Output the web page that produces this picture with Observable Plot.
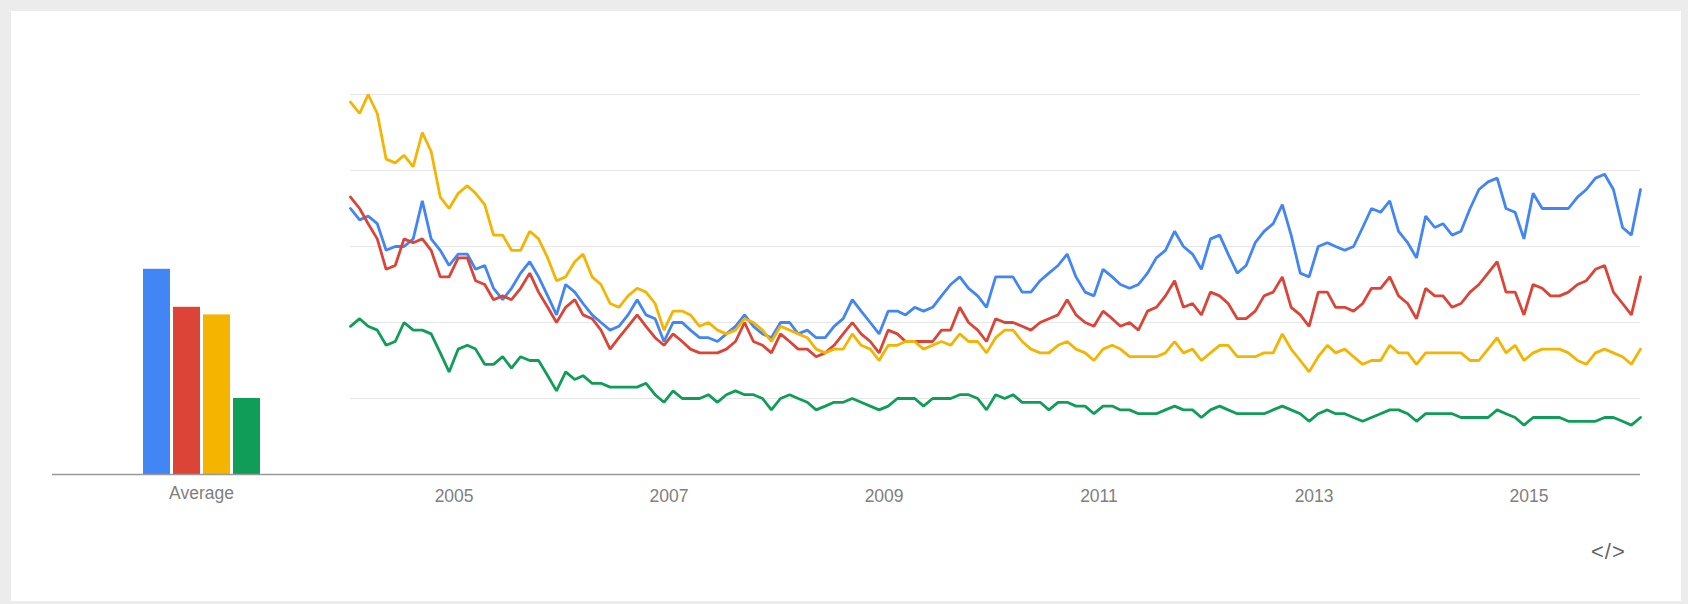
<!DOCTYPE html>
<html>
<head>
<meta charset="utf-8">
<script src="https://cdn.jsdelivr.net/npm/d3@7"></script>
<script src="https://cdn.jsdelivr.net/npm/@observablehq/plot@0.6"></script>
<style>
  html, body { margin: 0; padding: 0; background: #ececec; width: 1688px; height: 604px; overflow: hidden;
    font-family: "Liberation Sans", Arial, sans-serif; }
  #card { position: absolute; left: 11px; top: 11px; width: 1670px; height: 590px; background: #fff; }
  #bars { position: absolute; left: 0; top: 0; width: 350px; height: 604px; }
  #lines { position: absolute; left: 300px; top: 0; width: 1388px; height: 604px; }
  #embed { position: absolute; left: 1591px; top: 539px; font-size: 22px; color: #666; letter-spacing: 1px; }
</style>
</head>
<body>
<div id="card"></div>
<div id="bars"></div>
<div id="lines"></div>
<div id="embed">&lt;/&gt;</div>
<script>
// ---- data ----
const seriesNames = ["Term 1", "Term 2", "Term 3", "Term 4"];
const seriesColors = ["#4285f4", "#db4437", "#f4b400", "#0f9d58"];
const averages = [54, 44, 42, 20];
const averageLabel = "Average";
const startYear = 2004;   // monthly points, Jan 2004 .. Jan 2016
const tickYears = [2005, 2007, 2009, 2011, 2013, 2015];
const tickLabels = ["2005", "2007", "2009", "2011", "2013", "2015"];
const gridValues = [20, 40, 60, 80, 100];

const blue = [70,67,68,66,59,60,60,62,72,62,59,55,58,58,54,55,49,46,49,53,56,52,47,42,50,48,45,42,40,
  38,39,42,46,42,41,35,40,40,38,36,36,35,37,39,42,39,37,36,40,40,37,38,36,36,39,41,46,43,
  40,37,43,43,42,44,43,44,47,50,52,49,47,44,52,52,52,48,48,51,53,55,58,52,48,47,54,52,50,
  49,50,53,57,59,64,60,58,54,62,63,58,53,55,61,64,66,71,63,53,52,60,61,60,59,60,65,70,69,
  72,64,61,57,68,65,66,63,64,70,75,77,78,70,69,62,74,70,70,70,70,73,75,78,79,75,65,63,75];
const red = [73,70,66,62,54,55,62,61,62,59,52,52,57,57,51,50,46,47,46,49,53,48,44,40,44,46,42,41,38,
  33,36,39,42,39,36,34,37,35,33,32,32,32,33,35,40,35,34,32,37,35,33,33,31,32,34,37,40,37,
  35,32,38,37,35,35,35,35,38,38,44,40,38,35,41,40,40,39,38,40,41,42,46,42,40,39,43,41,39,
  40,38,43,44,47,51,44,45,42,48,47,45,41,41,43,47,48,52,44,42,39,48,48,44,44,43,45,49,49,
  52,47,45,41,49,47,47,44,45,48,50,53,56,48,48,42,50,49,47,47,48,50,51,54,55,48,45,42,52];
const yellow = [98,95,100,95,83,82,84,81,90,85,73,70,74,76,74,71,63,63,59,59,64,62,57,51,52,56,58,52,50,
  45,44,47,49,48,45,38,43,43,42,39,40,38,37,38,41,40,38,35,39,38,37,36,33,32,33,33,37,34,
  33,30,34,34,35,35,33,34,35,34,37,35,35,32,36,38,38,35,33,32,32,34,35,33,32,30,33,34,33,
  31,31,31,31,32,35,32,33,30,32,34,34,31,31,31,32,32,37,33,30,27,31,34,32,33,31,29,30,30,
  34,32,32,29,32,32,32,32,32,30,30,33,36,32,34,30,32,33,33,33,32,30,29,32,33,32,31,29,33];
const green = [39,41,39,38,34,35,40,38,38,37,32,27,33,34,33,29,29,31,28,31,30,30,26,22,27,25,26,24,24,
  23,23,23,23,24,21,19,22,20,20,20,21,19,21,22,21,21,20,17,20,21,20,19,17,18,19,19,20,19,
  18,17,18,20,20,20,18,20,20,20,21,21,20,17,21,20,21,19,19,19,17,19,19,18,18,16,18,18,17,
  17,16,16,16,17,18,17,17,15,17,18,17,16,16,16,16,17,18,17,16,14,16,17,16,16,15,14,15,16,
  17,17,16,14,16,16,16,16,15,15,15,15,17,16,15,13,15,15,15,15,14,14,14,14,15,15,14,13,15];

// ---- build tables ----
const seriesValues = [blue, red, yellow, green];
const lineData = [];
seriesValues.forEach((vals, s) => {
  vals.forEach((v, i) => lineData.push({series: seriesNames[s], date: new Date(Date.UTC(startYear, i, 15)), value: v}));
});
const avgData = seriesNames.map((s, i) => ({series: s, value: averages[i]}));
const tickDates = tickYears.map(y => new Date(Date.UTC(y, 0, 1)));
const nMonths = blue.length;

const font = '"Liberation Sans", Arial, sans-serif';
const color = {domain: seriesNames, range: seriesColors};
const labelColor = "#808080";

// ---- average bars ----
const barsPlot = Plot.plot({
  width: 350, height: 604,
  marginLeft: 52, marginRight: 0, marginTop: 94, marginBottom: 130,
  x: {domain: seriesNames, axis: null, range: [141, 261], paddingInner: 0.1, paddingOuter: 0.05},
  y: {domain: [0, 100], axis: null},
  color,
  style: {background: "transparent", fontFamily: font, overflow: "visible"},
  marks: [
    Plot.barY(avgData, {x: "series", y: "value", fill: "series"}),
    Plot.ruleY([0], {stroke: "#999", strokeWidth: 1.6}),
    Plot.text([averageLabel], {frameAnchor: "bottom", dy: 24, fill: labelColor, fontSize: 17.5})
  ]
});
document.getElementById("bars").appendChild(barsPlot);

// ---- time lines ----
const linesPlot = Plot.plot({
  width: 1388, height: 604,
  marginLeft: 50, marginRight: 48, marginTop: 94, marginBottom: 130,
  x: {type: "utc", domain: [new Date(Date.UTC(startYear, 0, 15)), new Date(Date.UTC(startYear, nMonths - 1, 15))]},
  y: {domain: [0, 100], axis: null},
  color,
  style: {background: "transparent", fontFamily: font, overflow: "visible"},
  marks: [
    Plot.ruleY(gridValues, {stroke: "#e6e6e6", strokeWidth: 1.2}),
    Plot.ruleY([0], {stroke: "#999", strokeWidth: 1.6}),
    Plot.axisX({ticks: tickDates, tickFormat: (d, i) => tickLabels[i], tickSize: 0, tickPadding: 15,
      fontSize: 17.5, fill: labelColor, label: null}),
    Plot.lineY(lineData, {x: "date", y: "value", z: "series", stroke: "series", strokeWidth: 2.8,
      strokeLinejoin: "miter", curve: "linear"})
  ]
});
document.getElementById("lines").appendChild(linesPlot);
</script>
</body>
</html>
